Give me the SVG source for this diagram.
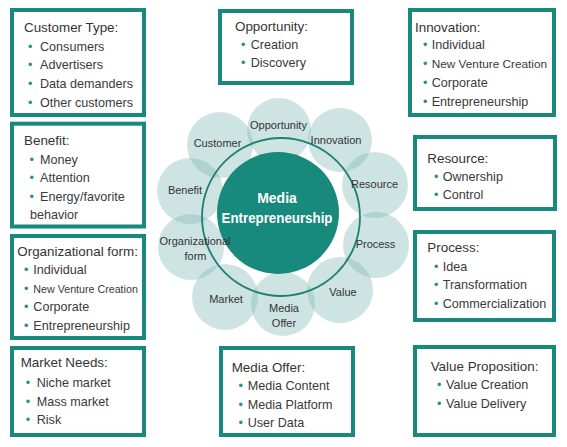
<svg xmlns="http://www.w3.org/2000/svg" width="567" height="447" viewBox="0 0 567 447">
<style>
.box{fill:#fff;stroke:#17897d;stroke-width:4}
.h{font-family:"Liberation Sans",Arial,sans-serif;font-size:13.4px;fill:#333}
.t{font-family:"Liberation Sans",Arial,sans-serif;font-size:12.6px;fill:#3a3a3a}
.b{fill:#2a8f85}
.petal{fill:#7fb8b5;fill-opacity:0.38}
.pl{font-family:"Liberation Sans",Arial,sans-serif;font-size:11px;fill:#333;text-anchor:middle}
.core{font-family:"Liberation Sans",Arial,sans-serif;font-size:14px;font-weight:bold;fill:#fff;text-anchor:middle}
</style>
<rect width="567" height="447" fill="#fff"/>

<g id="wheel">
<g id="petals">
<circle class="petal" cx="279" cy="130" r="32"/>
<circle class="petal" cx="340" cy="140" r="32"/>
<circle class="petal" cx="375" cy="185" r="33"/>
<circle class="petal" cx="376" cy="245" r="33"/>
<circle class="petal" cx="340" cy="290" r="33"/>
<circle class="petal" cx="283" cy="304" r="32"/>
<circle class="petal" cx="225" cy="297" r="33"/>
<circle class="petal" cx="191" cy="247" r="33"/>
<circle class="petal" cx="190" cy="191" r="33"/>
<circle class="petal" cx="220" cy="145" r="33"/>
</g>
<circle id="ring" cx="281" cy="217" r="79" fill="none" stroke="#1f7f76" stroke-width="1.8"/>
<g id="core">
<circle cx="278" cy="213" r="61" fill="#17897d"/>
<text class="core" x="277" y="203">Media</text>
<text class="core" x="277" y="223" textLength="111" lengthAdjust="spacingAndGlyphs">Entrepreneurship</text>
</g>
<g id="petal-labels">
<text class="pl" x="278.5" y="129">Opportunity</text>
<text class="pl" x="336" y="144">Innovation</text>
<text class="pl" x="374.5" y="187.5">Resource</text>
<text class="pl" x="375.5" y="248">Process</text>
<text class="pl" x="343" y="295.5">Value</text>
<text class="pl" x="284" y="311.5">Media</text>
<text class="pl" x="284" y="326.5">Offer</text>
<text class="pl" x="226" y="303">Market</text>
<text class="pl" x="195" y="245">Organizational</text>
<text class="pl" x="195.5" y="260">form</text>
<text class="pl" x="185" y="194">Benefit</text>
<text class="pl" x="217.5" y="147">Customer</text>
</g>
</g>

<g id="customer-type">
<rect class="box" x="12" y="10" width="132" height="105"/>
<text class="h" x="24" y="32">Customer Type:</text>
<text class="t" y="50.5"><tspan class="b" x="28">•</tspan><tspan x="40">Consumers</tspan></text>
<text class="t" y="69"><tspan class="b" x="28">•</tspan><tspan x="40">Advertisers</tspan></text>
<text class="t" y="87.7"><tspan class="b" x="28">•</tspan><tspan x="40">Data demanders</tspan></text>
<text class="t" y="106.7"><tspan class="b" x="28">•</tspan><tspan x="40">Other customers</tspan></text>
</g>

<g id="benefit">
<rect class="box" x="12" y="123.7" width="132" height="102.8"/>
<text class="h" x="24" y="145">Benefit:</text>
<text class="t" y="164"><tspan class="b" x="29.5">•</tspan><tspan x="40">Money</tspan></text>
<text class="t" y="181.7"><tspan class="b" x="29.5">•</tspan><tspan x="40">Attention</tspan></text>
<text class="t" y="200.7"><tspan class="b" x="29.5">•</tspan><tspan x="40">Energy/favorite</tspan></text>
<text class="t" x="30" y="219.3">behavior</text>
</g>

<g id="organizational-form">
<rect class="box" x="12" y="236" width="132" height="102"/>
<text class="h" x="17.3" y="255.7">Organizational form:</text>
<text class="t" y="274"><tspan class="b" x="24">•</tspan><tspan x="33.3">Individual</tspan></text>
<text class="t" y="292.7"><tspan class="b" x="24">•</tspan><tspan x="33.3" style="font-size:10.7px">New Venture Creation</tspan></text>
<text class="t" y="311"><tspan class="b" x="24">•</tspan><tspan x="33.3">Corporate</tspan></text>
<text class="t" y="330"><tspan class="b" x="24">•</tspan><tspan x="33.3">Entrepreneurship</tspan></text>
</g>

<g id="market-needs">
<rect class="box" x="12" y="348" width="132" height="87"/>
<text class="h" x="20.7" y="367.3">Market Needs:</text>
<text class="t" y="386.5"><tspan class="b" x="25.7">•</tspan><tspan x="36.7">Niche market</tspan></text>
<text class="t" y="405.5"><tspan class="b" x="25.7">•</tspan><tspan x="36.7">Mass market</tspan></text>
<text class="t" y="424.3"><tspan class="b" x="25.7">•</tspan><tspan x="36.7">Risk</tspan></text>
</g>

<g id="opportunity">
<rect class="box" x="220" y="11" width="132" height="72"/>
<text class="h" x="235" y="30.7">Opportunity:</text>
<text class="t" y="49"><tspan class="b" x="241">•</tspan><tspan x="250.7">Creation</tspan></text>
<text class="t" y="67.3"><tspan class="b" x="241">•</tspan><tspan x="250.7">Discovery</tspan></text>
</g>

<g id="innovation">
<rect class="box" x="410" y="10" width="144" height="105"/>
<text class="h" x="415" y="31.7">Innovation:</text>
<text class="t" y="49.3"><tspan class="b" x="423">•</tspan><tspan x="431.7">Individual</tspan></text>
<text class="t" y="67.7"><tspan class="b" x="423">•</tspan><tspan x="431.7" style="font-size:11.8px">New Venture Creation</tspan></text>
<text class="t" y="86.7"><tspan class="b" x="423">•</tspan><tspan x="431.7">Corporate</tspan></text>
<text class="t" y="106"><tspan class="b" x="423">•</tspan><tspan x="431.7">Entrepreneurship</tspan></text>
</g>

<g id="resource">
<rect class="box" x="415" y="137" width="140" height="72"/>
<text class="h" x="427.3" y="162.7">Resource:</text>
<text class="t" y="180.7"><tspan class="b" x="434">•</tspan><tspan x="442.7">Ownership</tspan></text>
<text class="t" y="199.3"><tspan class="b" x="434">•</tspan><tspan x="442.7">Control</tspan></text>
</g>

<g id="process">
<rect class="box" x="415" y="232" width="139" height="88"/>
<text class="h" x="427.3" y="252.3">Process:</text>
<text class="t" y="270.7"><tspan class="b" x="434">•</tspan><tspan x="442.7">Idea</tspan></text>
<text class="t" y="289.3"><tspan class="b" x="434">•</tspan><tspan x="442.7">Transformation</tspan></text>
<text class="t" y="307.5"><tspan class="b" x="434">•</tspan><tspan x="442.7">Commercialization</tspan></text>
</g>

<g id="media-offer">
<rect class="box" x="221" y="348" width="132" height="87"/>
<text class="h" x="231.7" y="371.7">Media Offer:</text>
<text class="t" y="390"><tspan class="b" x="238.5">•</tspan><tspan x="247.7">Media Content</tspan></text>
<text class="t" y="408.5"><tspan class="b" x="238.5">•</tspan><tspan x="247.7">Media Platform</tspan></text>
<text class="t" y="427.3"><tspan class="b" x="238.5">•</tspan><tspan x="247.7">User Data</tspan></text>
</g>

<g id="value-proposition">
<rect class="box" x="415" y="347" width="139" height="88"/>
<text class="h" x="430.7" y="370.7">Value Proposition:</text>
<text class="t" y="389"><tspan class="b" x="437">•</tspan><tspan x="446">Value Creation</tspan></text>
<text class="t" y="407.7"><tspan class="b" x="437">•</tspan><tspan x="446">Value Delivery</tspan></text>
</g>
</svg>
